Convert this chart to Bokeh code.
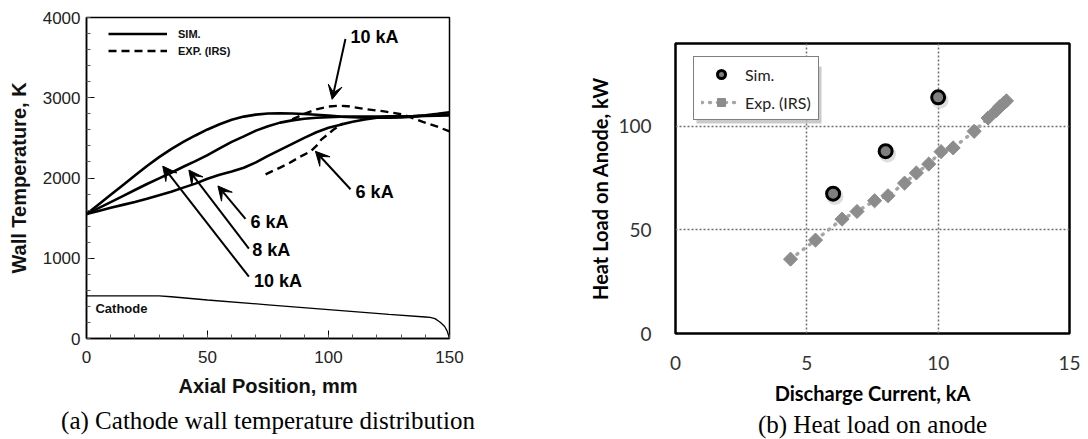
import numpy as np
from bokeh.plotting import figure
from bokeh.layouts import row
from bokeh.models import (ColumnDataSource, Legend, LegendItem, Arrow, VeeHead,
                          SingleIntervalTicker, FixedTicker, BoxAnnotation, Range1d)
from bokeh.core.properties import value
from bokeh.transform import dodge
from bokeh.embed import file_html
from bokeh.resources import INLINE

# ---------------- (a) Cathode wall temperature ----------------
pos = [0, 5, 10, 15, 20, 25, 30, 35, 40, 45, 50, 55, 60, 65, 70, 75, 80, 85, 90, 95,
       100, 105, 110, 115, 120, 125, 130, 135, 140, 145, 150]
sim_10ka = [1550, 1670, 1790, 1910, 2030, 2150, 2260, 2360, 2450, 2530, 2605, 2670, 2725,
            2765, 2790, 2803, 2807, 2803, 2797, 2788, 2777, 2765, 2757, 2752, 2750, 2750,
            2755, 2765, 2782, 2800, 2820]
sim_8ka = [1550, 1625, 1700, 1775, 1850, 1925, 1995, 2065, 2140, 2210, 2285, 2370, 2450,
           2519, 2590, 2645, 2690, 2718, 2738, 2750, 2758, 2763, 2765, 2765, 2766, 2768,
           2770, 2773, 2778, 2785, 2790]
sim_6ka = [1550, 1590, 1630, 1665, 1700, 1740, 1785, 1830, 1880, 1930, 1990, 2040, 2080,
           2128, 2195, 2275, 2350, 2425, 2500, 2570, 2625, 2665, 2700, 2730, 2750, 2760,
           2765, 2768, 2772, 2775, 2778]
exp6_pos = [74, 80, 84, 88, 92.6, 95, 97, 100, 102, 104, 106]
exp6_temp = [2046, 2130, 2190, 2260, 2333, 2400, 2478, 2550, 2601, 2640, 2680]
exp10_pos = [85, 90, 95, 100, 104, 108, 115, 123, 131, 139, 145, 150]
exp10_temp = [2730, 2800, 2855, 2890, 2900, 2895, 2860, 2830, 2790, 2700, 2640, 2580]
cathode_pos = [0, 30, 35, 50, 75, 100, 125, 140, 142, 144, 146.3, 148, 149, 150]
cathode_r = [530, 530, 520, 480, 420, 360, 300, 268, 262, 248, 200, 150, 95, 0]

label_text = ["10 kA", "6 kA", "6 kA", "8 kA", "10 kA"]
label_x = [109.1, 111.2, 67.8, 68.5, 69.2]
label_y = [3753, 1820, 1449, 1099, 716]
arrow_x0 = [107.0, 109.1, 65.7, 67.1, 67.1]
arrow_y0 = [3733, 1860, 1490, 1120, 770]
arrow_x1 = [101.5, 94.6, 54.3, 42.3, 31.5]
arrow_y1 = [2980, 2333, 1901, 2099, 2148]

caption_a = "(a) Cathode wall temperature distribution"
caption_b = "(b) Heat load on anode"

# ---------------- (b) Heat load on anode ----------------
sim_current = [6, 8, 10]
sim_heat = [67.5, 88, 114]
exp_current = [4.38, 5.33, 6.34, 6.91, 7.58, 8.09, 8.72, 9.17, 9.64, 10.11, 10.57,
               11.37, 11.9, 12.2, 12.35, 12.5, 12.6]
exp_heat = [35.9, 45.1, 55.2, 58.9, 64.1, 66.5, 72.6, 77.5, 81.8, 87.8, 89.6,
            97.6, 104.0, 107.5, 109.5, 111.2, 112.3]

ARIAL = "Liberation Sans"

# ===== Figure (a) =====
p1 = figure(width=548, height=439, x_range=Range1d(0, 150), y_range=Range1d(0, 4000),
            output_backend="svg", toolbar_location=None,
            title=caption_a, title_location="below",
            min_border_left=86, min_border_right=99, min_border_top=17, min_border_bottom=98)
p1.frame_align = False
p1.grid.visible = False
p1.outline_line_color = "black"
p1.outline_line_width = 1.5
p1.title.align = "center"
p1.title.text_font = "Liberation Serif"
p1.title.text_font_size = "25px"
p1.title.text_font_style = "normal"
p1.title.text_color = "black"
p1.title.standoff = 11
p1.title.offset = -7

p1.xaxis.ticker = SingleIntervalTicker(interval=50, num_minor_ticks=5)
p1.yaxis.ticker = SingleIntervalTicker(interval=1000, num_minor_ticks=5)
for ax in (p1.xaxis[0], p1.yaxis[0]):
    ax.major_tick_in = 8
    ax.major_tick_out = 0
    ax.minor_tick_in = 4
    ax.minor_tick_out = 0
    ax.major_tick_line_color = "black"
    ax.minor_tick_line_color = "#555555"
    ax.axis_line_color = "black"
    ax.axis_line_width = 1.5
    ax.major_label_text_font = ARIAL
    ax.major_label_text_font_size = "17px"
    ax.major_label_text_color = "#222222"
    ax.axis_label_text_font = ARIAL
    ax.axis_label_text_font_style = "bold"
    ax.axis_label_text_font_size = "20px"
    ax.axis_label_text_color = "#111111"
p1.xaxis.axis_label = "Axial Position, mm"
p1.yaxis.axis_label = "Wall Temperature, K"
p1.xaxis.major_label_standoff = 12
p1.xaxis.axis_label_standoff = 9
p1.yaxis.major_label_standoff = 6
p1.yaxis.axis_label_standoff = 10

r_s10 = p1.line(pos, sim_10ka, line_color="black", line_width=2.6)
p1.line(pos, sim_8ka, line_color="black", line_width=2.6)
p1.line(pos, sim_6ka, line_color="black", line_width=2.6)
r_e6 = p1.line(exp6_pos, exp6_temp, line_color="black", line_width=2.4, line_dash="8 5")
r_e10 = p1.line(exp10_pos, exp10_temp, line_color="black", line_width=2.4, line_dash="8 5")
p1.line(cathode_pos, cathode_r, line_color="black", line_width=1.3)

p1.text([3.7], [379], text=["Cathode"], text_font=value(ARIAL), text_font_style="bold",
        text_font_size="13px", text_baseline="middle", text_align="left", text_color="#111111")
p1.text(label_x, label_y, text=label_text, text_font=value(ARIAL), text_font_style="bold",
        text_font_size="18px", text_baseline="middle", text_align="left", text_color="black")
for x0, y0, x1, y1 in zip(arrow_x0, arrow_y0, arrow_x1, arrow_y1):
    p1.add_layout(Arrow(end=VeeHead(size=14, fill_color="black", line_color="black"),
                        x_start=x0, y_start=y0, x_end=x1, y_end=y1,
                        line_color="black", line_width=2))

leg1 = Legend(items=[LegendItem(label="SIM.", renderers=[r_s10]),
                     LegendItem(label="EXP. (IRS)", renderers=[r_e10])],
              location=(22, 279), padding=0, margin=0, spacing=0,
              glyph_width=59, glyph_height=17, label_height=17, label_standoff=11,
              label_text_font=ARIAL, label_text_font_style="bold", label_text_font_size="11px",
              label_text_color="#111111",
              background_fill_alpha=0, border_line_color=None)
p1.add_layout(leg1)

# ===== Figure (b) =====
p2 = figure(width=540, height=439, x_range=Range1d(0, 15), y_range=Range1d(0, 140),
            output_backend="svg", toolbar_location=None,
            title=caption_b, title_location="below",
            min_border_left=127, min_border_right=19, min_border_top=43, min_border_bottom=106)
p2.frame_align = False
p2.outline_line_color = "black"
p2.outline_line_width = 2.5
p2.title.align = "center"
p2.title.text_font = "Liberation Serif"
p2.title.text_font_size = "25px"
p2.title.text_font_style = "normal"
p2.title.text_color = "black"
p2.title.standoff = 2
p2.title.offset = 4

p2.xaxis.ticker = FixedTicker(ticks=[0, 5, 10, 15])
p2.yaxis.ticker = FixedTicker(ticks=[0, 50, 100])
for ax in (p2.xaxis[0], p2.yaxis[0]):
    ax.major_tick_line_color = None
    ax.minor_tick_line_color = None
    ax.axis_line_color = None
    ax.major_label_text_font = "Lato"
    ax.major_label_text_font_size = "19px"
    ax.major_label_text_color = "#333333"
    ax.axis_label_text_font = "Lato"
    ax.axis_label_text_font_style = "bold"
    ax.axis_label_text_font_size = "20px"
    ax.axis_label_text_color = "black"
p2.xaxis.axis_label = "Discharge Current, kA"
p2.yaxis.axis_label = "Heat Load on Anode, kW"
p2.xaxis.major_label_standoff = 16
p2.xaxis.axis_label_standoff = 8
p2.yaxis.major_label_standoff = 18
p2.yaxis.axis_label_standoff = 3
p2.xgrid.ticker = FixedTicker(ticks=[5, 10])
p2.ygrid.ticker = FixedTicker(ticks=[50, 100])
p2.grid.grid_line_color = "#6f6f6f"
p2.grid.grid_line_dash = "2 2"
p2.grid.grid_line_width = 1.5

sim_src = ColumnDataSource(dict(x=sim_current, y=sim_heat))
exp_src = ColumnDataSource(dict(x=exp_current, y=exp_heat))

r_el = p2.line("x", "y", source=exp_src, line_color="#a6a6a6", line_width=3.5,
               line_dash="1 7", line_cap="round")
r_ed = p2.scatter("x", "y", source=exp_src, marker="square", angle=np.pi / 4, size=10,
                  fill_color="#8c8c8c", line_color="#8c8c8c", line_width=1)
p2.scatter(dodge("x", 0.07, range=p2.x_range), dodge("y", -1.4, range=p2.y_range),
           source=sim_src, marker="circle", size=17, fill_color="#c8c8c8",
           fill_alpha=0.6, line_color=None)
r_sim = p2.scatter("x", "y", source=sim_src, marker="circle", size=13,
                   fill_color="#7f7f7f", line_color="black", line_width=3)

shadow = BoxAnnotation(left=21, right=146, bottom=210, top=267,
                       left_units="screen", right_units="screen",
                       bottom_units="screen", top_units="screen",
                       fill_color="#bdbdbd", fill_alpha=0.8, line_color=None)
p2.add_layout(shadow)
leg2 = Legend(items=[LegendItem(label="Sim.", renderers=[r_sim]),
                     LegendItem(label="Exp. (IRS)", renderers=[r_el, r_ed])],
              location=(18, 213), padding=7, margin=0, spacing=8,
              glyph_width=40, glyph_height=20, label_height=20, label_standoff=4,
              label_text_font="Lato", label_text_font_size="16px", label_text_color="#222222",
              background_fill_color="white", background_fill_alpha=1,
              border_line_color="black", border_line_width=1)
p2.add_layout(leg2)

layout = row(p1, p2)
open("out.html", "w").write(file_html(layout, INLINE))
